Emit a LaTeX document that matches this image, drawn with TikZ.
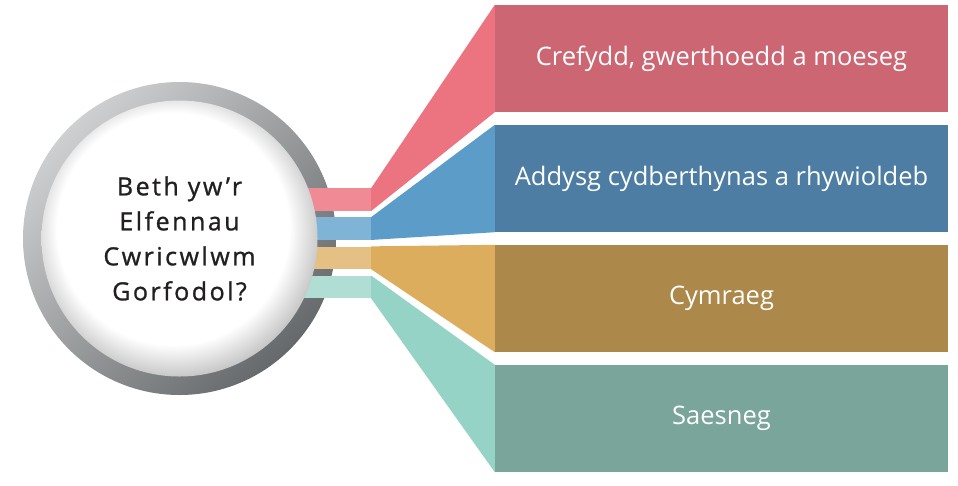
\documentclass[tikz,border=0pt]{standalone}
\usepackage{fontspec}
\setmainfont{Open Sans}
\newfontfamily\circfont[LetterSpace=10,FakeBold=1]{Open Sans}

\definecolor{barpink}{HTML}{CC6672}
\definecolor{barblue}{HTML}{4D7DA2}
\definecolor{bargold}{HTML}{AC884A}
\definecolor{barteal}{HTML}{7AA59A}
\definecolor{funpink}{HTML}{EC7380}
\definecolor{funblue}{HTML}{5C9CC8}
\definecolor{fungold}{HTML}{DCAD5C}
\definecolor{funteal}{HTML}{96D3C7}
\definecolor{stubpink}{HTML}{F08B95}
\definecolor{stubblue}{HTML}{80B4D6}
\definecolor{stubgold}{HTML}{E5C084}
\definecolor{stubteal}{HTML}{B0DED5}
\definecolor{ringlight}{HTML}{CDCFD0}
\definecolor{ringdark}{HTML}{66696B}
\definecolor{textdark}{HTML}{231F20}

\pgfdeclareradialshading{discshade}{\pgfpoint{-2bp}{3bp}}{color(0bp)=(white); color(21bp)=(white); color(28bp)=(black!28); color(50bp)=(black!28)}

\begin{document}
\begin{tikzpicture}[x=1pt,y=-1pt,
		bar/.style={rectangle,minimum width=453pt,minimum height=107pt,inner sep=0pt,text=white,font=\fontsize{25.5}{30}\selectfont},
		stub/.style={rectangle,minimum width=80pt,minimum height=22.5pt,inner sep=0pt}]
		\useasboundingbox (0,0) rectangle (958,485);

		\node[circle,minimum size=313pt,inner sep=0pt,top color=ringlight,bottom color=ringdark,shading angle=45] (ring) at (179.5,238.5) {};

		\node[stub,fill=stubpink] (s1) at (331,199.5) {};
		\node[stub,fill=stubblue] (s2) at (331,228.5) {};
		\node[stub,fill=stubgold] (s3) at (331,257.8) {};
		\node[stub,fill=stubteal] (s4) at (331,287) {};

		\node[circle,minimum size=276pt,inner sep=0pt,shade,shading=discshade,align=center,text=textdark,font=\circfont\fontsize{25}{35}\selectfont] (disc) at (ring) {Beth yw’r\\Elfennau\\Cwricwlwm\\Gorfodol?};

		\node[bar,fill=barpink] (b1) at (721.5,58.5) {Crefydd, gwerthoedd a moeseg};
		\node[bar,fill=barblue] (b2) at (721.5,178.5) {Addysg cydberthynas a rhywioldeb};
		\node[bar,fill=bargold] (b3) at (721.5,298.5) {Cymraeg};
		\node[bar,fill=barteal] (b4) at (721.5,418.5) {Saesneg};

		\fill[funpink] (s1.north east) -- (b1.north west) -- (b1.south west) -- (s1.south east) -- cycle;
		\fill[funblue] (s2.north east) -- (b2.north west) -- (b2.south west) -- (s2.south east) -- cycle;
		\fill[fungold] (s3.north east) -- (b3.north west) -- (b3.south west) -- (s3.south east) -- cycle;
		\fill[funteal] (s4.north east) -- (b4.north west) -- (b4.south west) -- (s4.south east) -- cycle;
	\end{tikzpicture}
\end{document}
